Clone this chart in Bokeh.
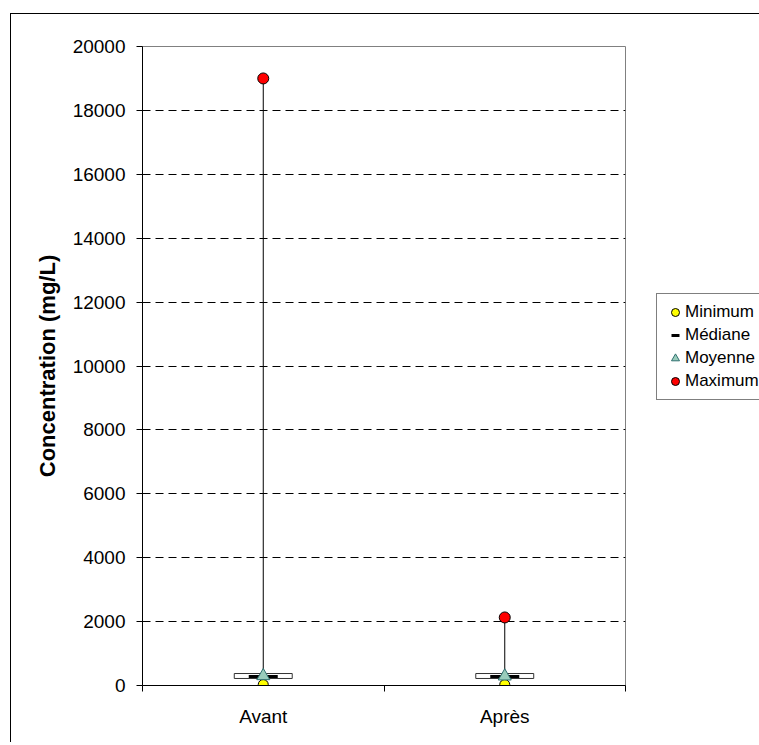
from bokeh.plotting import figure
from bokeh.models import (FixedTicker, Legend, LegendItem,
                          ColumnDataSource, Range1d)
from bokeh.embed import file_html
from bokeh.resources import INLINE

# ---- data ----
categories = ["Avant", "Après"]
minimum = [30, 30]
q1 = [220, 220]
median = [280, 280]
mean = [300, 290]
q3 = [375, 375]
maximum = [19000, 2130]
y_ticks = list(range(0, 20001, 2000))

xpos = [i + 0.5 for i in range(len(categories))]
src = ColumnDataSource(dict(x=xpos, mn=minimum, q1=q1, med=median,
                            mean=mean, q3=q3, mx=maximum))

FONT = "Liberation Sans"

p = figure(width=745, height=728, output_backend="svg", toolbar_location=None,
           x_range=Range1d(0, len(categories)), y_range=Range1d(0, 20000),
           min_border_left=131, min_border_right=131, min_border_top=32,
           min_border_bottom=57)
p.frame_width = 483
p.frame_height = 639
p.margin = (13, 0, 0, 10)
p.styles = {"border-left": "1px solid black", "border-top": "1px solid black"}
p.background_fill_color = "white"
p.border_fill_color = "white"
p.outline_line_color = "#808080"
p.outline_line_width = 1

# x axis
p.xaxis.ticker = FixedTicker(ticks=xpos, minor_ticks=[0, 1, 2])
p.xaxis.major_label_overrides = {x: c for x, c in zip(xpos, categories)}
p.xaxis.major_tick_out = 0
p.xaxis.major_tick_in = 0
p.xaxis.minor_tick_out = 6
p.xaxis.minor_tick_in = 0
p.xaxis.minor_tick_line_color = "black"
p.xaxis.axis_line_color = "black"
p.xaxis.major_label_text_font = FONT
p.xaxis.major_label_text_font_size = "19px"
p.xaxis.major_label_text_color = "black"
p.xaxis.major_label_standoff = 14

# y axis
p.yaxis.ticker = FixedTicker(ticks=y_ticks)
p.yaxis.minor_tick_line_color = None
p.yaxis.major_tick_out = 6
p.yaxis.major_tick_in = 0
p.yaxis.major_tick_line_color = "black"
p.yaxis.axis_line_color = "black"
p.yaxis.major_label_text_font = FONT
p.yaxis.major_label_text_font_size = "19px"
p.yaxis.major_label_text_color = "black"
p.yaxis.major_label_standoff = 11
p.yaxis.axis_label = "Concentration (mg/L)"
p.yaxis.axis_label_text_font = FONT
p.yaxis.axis_label_text_font_size = "22px"
p.yaxis.axis_label_text_font_style = "bold"
p.yaxis.axis_label_text_color = "black"
p.yaxis.axis_label_standoff = 10

p.xgrid.grid_line_color = None
p.ygrid.grid_line_color = "black"
p.ygrid.grid_line_dash = "8 5"
p.ygrid.grid_line_width = 1

# glyphs
p.segment(x0="x", y0="mn", x1="x", y1="mx", source=src, line_color="black",
          line_width=1)
p.vbar(x="x", width=0.24, bottom="q1", top="q3", source=src,
       fill_color="white", line_color="#333333", line_width=1)
r_med = p.scatter(x="x", y="med", source=src, marker="dash", size=29,
                  line_color="black", line_width=3)
r_min = p.scatter(x="x", y="mn", source=src, marker="circle", size=10,
                  fill_color="#FFFF00", line_color="black", line_width=1)
r_max = p.scatter(x="x", y="mx", source=src, marker="circle", size=11,
                  fill_color="#FF0000", line_color="black", line_width=1)
r_mean = p.scatter(x="x", y="mean", source=src, marker="triangle", size=13,
                   fill_color="#99CCBB", line_color="#2F6F6F", line_width=1)

legend = Legend(items=[
    LegendItem(label="Minimum", renderers=[r_min]),
    LegendItem(label="Médiane", renderers=[r_med]),
    LegendItem(label="Moyenne", renderers=[r_mean]),
    LegendItem(label="Maximum", renderers=[r_max]),
], location=(31, 285))
legend.label_text_font = FONT
legend.label_text_font_size = "17px"
legend.label_text_color = "black"
legend.label_height = 20
legend.label_standoff = 0
legend.glyph_width = 20
legend.glyph_height = 20
legend.spacing = 3
legend.padding = 8
legend.margin = 0
legend.border_line_color = "black"
legend.border_line_width = 1
legend.background_fill_color = "white"
legend.background_fill_alpha = 1
p.add_layout(legend, "right")

open("out.html", "w").write(file_html(p, INLINE))
